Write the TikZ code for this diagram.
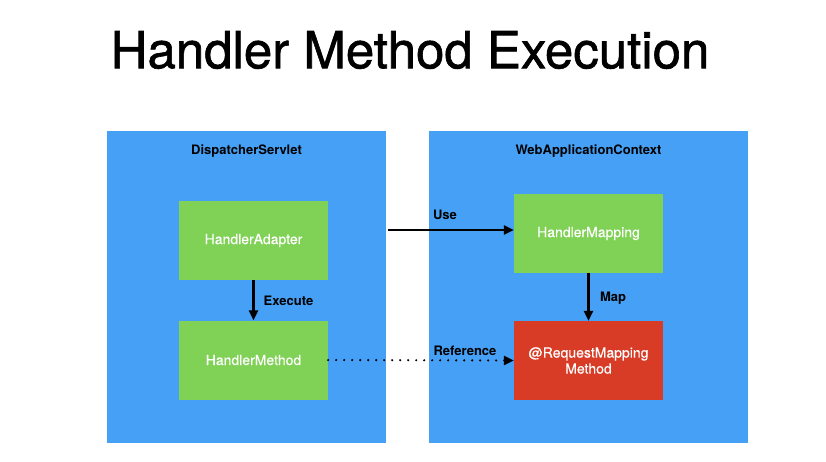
\documentclass[tikz,border=0pt]{standalone}
\usepackage{fontspec}
\setmainfont{TeX Gyre Heros}
\newfontfamily\medfont{TeX Gyre Heros}[FakeBold=1.2]
\newfontfamily\boxfont{TeX Gyre Heros}[FakeBold=0.4]
\usetikzlibrary{arrows.meta}

\definecolor{panelblue}{RGB}{69,160,246}
\definecolor{boxgreen}{RGB}{127,210,86}
\definecolor{boxred}{RGB}{217,60,38}

\tikzset{
  panel/.style={fill=panelblue, inner sep=0pt},
  box/.style={fill=boxgreen, text=white, inner sep=0pt, minimum width=149pt, minimum height=79pt,
    font=\boxfont\fontsize{14}{16}\selectfont, align=center},
  lbl/.style={font=\fontsize{13}{15}\selectfont\bfseries},
  flow/.style={line width=2.4pt, -{Triangle[length=10pt,width=9pt]}},
}

\begin{document}
\begin{tikzpicture}[x=1pt, y=-1pt]

    \useasboundingbox[fill=white] (0,0) rectangle (826,461);

    \node (title) at (410,50) {\medfont\fontsize{51}{54}\selectfont Handler Method Execution};

    \node[panel, minimum width=279pt, minimum height=312pt] (servlet) at (246.5,287) {};
    \node[panel, minimum width=319pt, minimum height=312pt] (context) at (588.5,287) {};
    \node[lbl] (servletname) at (246.5,151) {DispatcherServlet};
    \node[lbl] (contextname) at (588.5,151) {WebApplicationContext};

    \node[box] (adapter) at (253.5,240.5) {HandlerAdapter};
    \node[box] (method) at (253.5,360) {HandlerMethod};
    \node[box] (mapping) at (588.5,233.5) {HandlerMapping};
    \node[box, fill=boxred] (reqmethod) at (588.5,360.5) {@RequestMapping\\Method};

    \coordinate (usestart) at (388,230);
    \draw[flow] (usestart) -- (usestart -| mapping.west);
    \draw[flow] (adapter) -- (method);
    \draw[flow] (mapping) -- (reqmethod);
    \draw[flow, dash pattern=on 0pt off 8pt, line cap=round] (method.east) -- (reqmethod.west);

    \node[lbl] (uselbl) at (445,215) {Use};
    \node[lbl] (execlbl) at (288.5,301) {Execute};
    \node[lbl] (maplbl) at (613,298) {Map};
    \node[lbl] (reflbl) at (465,351) {Reference};
  \end{tikzpicture}
\end{document}
